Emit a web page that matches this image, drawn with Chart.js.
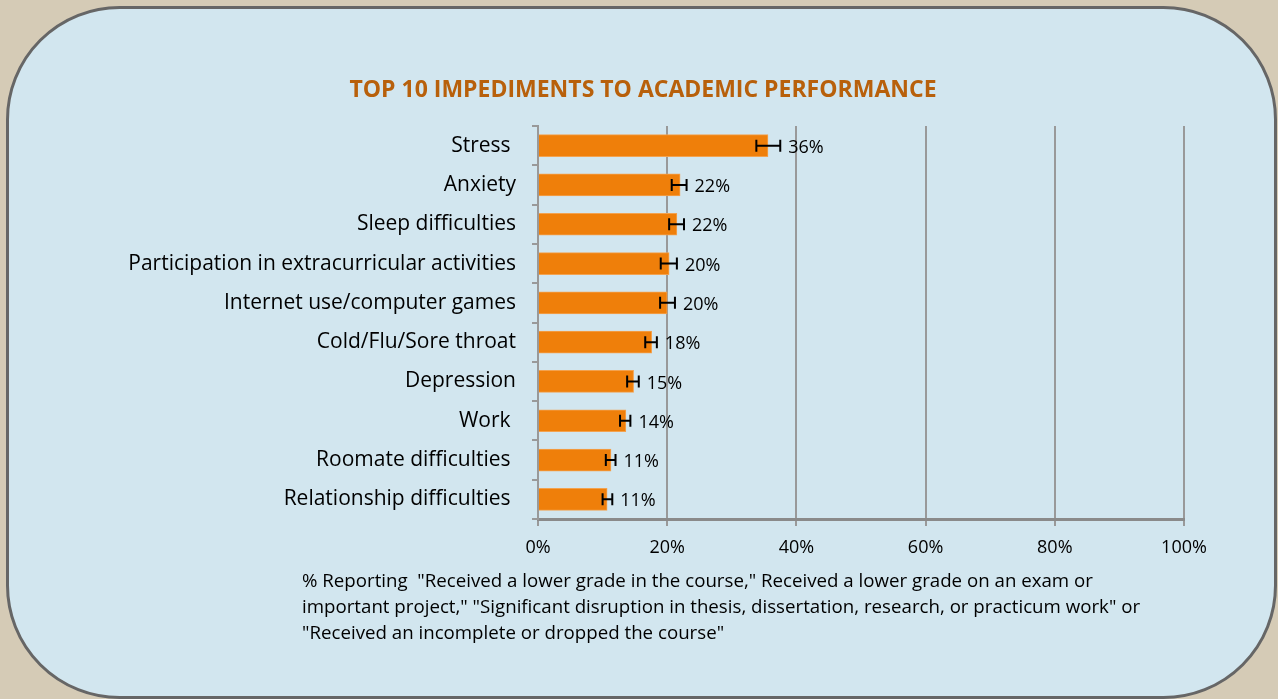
<!DOCTYPE html>
<html>
<head>
<meta charset="utf-8">
<script src="https://cdn.jsdelivr.net/npm/chart.js@4.4.1/dist/chart.umd.min.js"></script>
<style>
  html, body { margin: 0; padding: 0; background: #D5CBB6; }
  #wrap { position: relative; width: 1278px; height: 699px; }
  canvas { display: block; }
</style>
</head>
<body>
<div id="wrap"><canvas id="c" width="1278" height="699"></canvas></div>
<script>
const categories = [
  "Stress ",
  "Anxiety",
  "Sleep difficulties",
  "Participation in extracurricular activities",
  "Internet use/computer games",
  "Cold/Flu/Sore throat",
  "Depression",
  "Work ",
  "Roomate difficulties ",
  "Relationship difficulties "
];
const values   = [35.6, 22.0, 21.5, 20.3, 20.0, 17.6, 14.8, 13.6, 11.3, 10.7];
const errLow   = [33.8, 20.7, 20.3, 19.0, 18.9, 16.6, 13.8, 12.7, 10.5, 10.0];
const errHigh  = [37.5, 23.0, 22.6, 21.5, 21.2, 18.4, 15.6, 14.3, 12.0, 11.5];
const xTicks   = [0, 20, 40, 60, 80, 100];
const titleText = "TOP 10 IMPEDIMENTS TO ACADEMIC PERFORMANCE";
const footnoteLines = [
  '% Reporting  "Received a lower grade in the course," Received a lower grade on an exam or',
  'important project," "Significant disruption in thesis, dissertation, research, or practicum work" or',
  '"Received an incomplete or dropped the course"'
];

const FONT = "'Open Sans', 'DejaVu Sans', sans-serif";

const panelPlugin = {
  id: 'panel',
  beforeDraw(chart) {
    const ctx = chart.ctx;
    ctx.save();
    ctx.fillStyle = '#D5CBB6';
    ctx.fillRect(0, 0, chart.width, chart.height);
    const x = 7.5, y = 7.5, w = 1268, h = 690, r = 112;
    ctx.beginPath();
    ctx.moveTo(x + r, y);
    ctx.lineTo(x + w - r, y);
    ctx.arcTo(x + w, y, x + w, y + r, r);
    ctx.lineTo(x + w, y + h - r);
    ctx.arcTo(x + w, y + h, x + w - r, y + h, r);
    ctx.lineTo(x + r, y + h);
    ctx.arcTo(x, y + h, x, y + h - r, r);
    ctx.lineTo(x, y + r);
    ctx.arcTo(x, y, x + r, y, r);
    ctx.closePath();
    ctx.fillStyle = '#D2E6EF';
    ctx.fill();
    ctx.lineWidth = 3;
    ctx.strokeStyle = '#666666';
    ctx.stroke();
    // title
    ctx.fillStyle = '#B8600B';
    ctx.font = "bold 23px " + FONT;
    ctx.textAlign = 'center';
    ctx.textBaseline = 'middle';
    ctx.fillText(titleText, 643, 90);
    ctx.restore();
  }
};

const errorBarPlugin = {
  id: 'errorBars',
  afterDatasetsDraw(chart) {
    const ctx = chart.ctx;
    const xs = chart.scales.x;
    const meta = chart.getDatasetMeta(0);
    ctx.save();
    ctx.strokeStyle = '#000000';
    ctx.lineWidth = 2;
    meta.data.forEach((bar, i) => {
      const yc = bar.y;
      const x1 = xs.getPixelForValue(errLow[i]);
      const x2 = xs.getPixelForValue(errHigh[i]);
      const cap = 6;
      ctx.beginPath();
      ctx.moveTo(x1, yc); ctx.lineTo(x2, yc);
      ctx.moveTo(x1, yc - cap); ctx.lineTo(x1, yc + cap);
      ctx.moveTo(x2, yc - cap); ctx.lineTo(x2, yc + cap);
      ctx.stroke();
      ctx.fillStyle = '#000000';
      ctx.font = "18px " + FONT;
      ctx.textAlign = 'left';
      ctx.textBaseline = 'middle';
      ctx.fillText(Math.round(values[i]) + '%', x2 + 8, yc + 2);
    });
    ctx.restore();
  }
};

const footnotePlugin = {
  id: 'footnote',
  afterDraw(chart) {
    const ctx = chart.ctx;
    ctx.save();
    ctx.fillStyle = '#000000';
    ctx.font = "18.7px " + FONT;
    ctx.textAlign = 'left';
    ctx.textBaseline = 'middle';
    footnoteLines.forEach((t, i) => ctx.fillText(t, 302, 582 + i * 26));
    ctx.restore();
  }
};

new Chart(document.getElementById('c'), {
  type: 'bar',
  data: {
    labels: categories,
    datasets: [{
      data: values,
      backgroundColor: '#EF7F0A',
      borderColor: '#F3A24F',
      borderWidth: 1,
      barThickness: 22
    }]
  },
  options: {
    indexAxis: 'y',
    responsive: false,
    animation: false,
    devicePixelRatio: 1,
    layout: { padding: { top: 126, left: 0, right: 94, bottom: 120 } },
    plugins: {
      legend: { display: false },
      tooltip: { enabled: false },
      title: { display: false }
    },
    scales: {
      x: {
        min: 0, max: 100,
        afterBuildTicks(s) { s.ticks = xTicks.map(v => ({ value: v })); },
        afterFit(s) { s.height = 60; },
        ticks: {
          callback: v => v + '%',
          color: '#000000',
          font: { family: FONT, size: 18 },
          padding: 11,
          maxRotation: 0
        },
        grid: {
          color: '#999999',
          lineWidth: 2,
          drawTicks: true,
          tickLength: 7,
          tickColor: '#999999'
        },
        border: { display: true, color: '#8a8a8a', width: 3 }
      },
      y: {
        afterFit(s) { s.width = 538; },
        ticks: {
          color: '#000000',
          font: { family: FONT, size: 21 },
          padding: 16
        },
        grid: {
          offset: true,
          drawOnChartArea: false,
          drawTicks: true,
          tickLength: 6,
          color: '#999999',
          lineWidth: 2
        },
        border: { display: true, color: '#999999', width: 2 }
      }
    }
  },
  plugins: [panelPlugin, errorBarPlugin, footnotePlugin]
});
</script>
</body>
</html>
